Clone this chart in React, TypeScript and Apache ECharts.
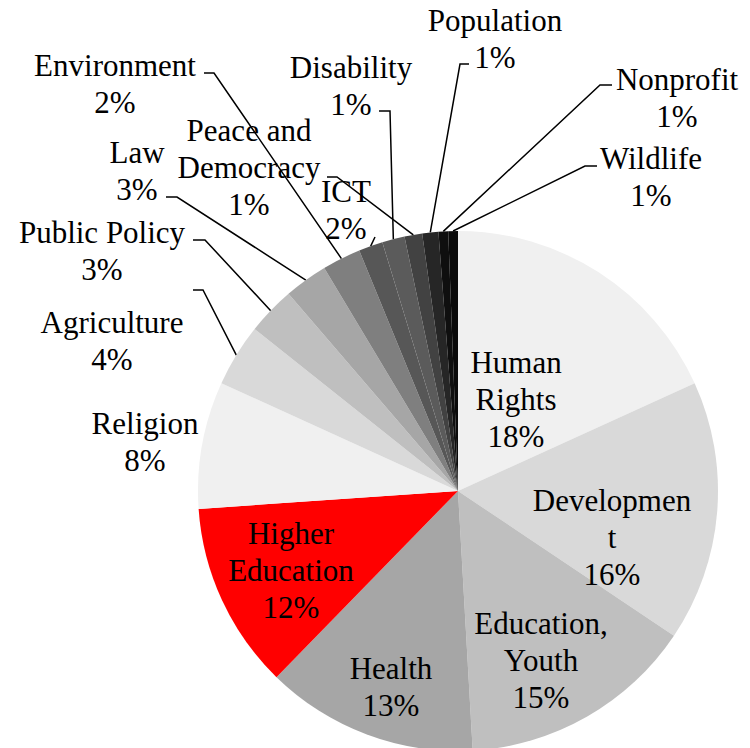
import React, { useEffect, useRef } from "react";
import * as echarts from "echarts";

// ---- data ----
const categories = [
  "Human Rights",
  "Development",
  "Education, Youth",
  "Health",
  "Higher Education",
  "Religion",
  "Agriculture",
  "Public Policy",
  "Law",
  "Environment",
  "ICT",
  "Disability",
  "Peace and Democracy",
  "Population",
  "Nonprofit",
  "Wildlife",
];
const shares = [18.2, 16.2, 14.7, 13.2, 11.6, 7.9, 3.9, 3.0, 2.7, 2.4, 1.5, 1.4, 1.1, 1.0, 0.6, 0.6];
const displayNames = [
  "Human\nRights",
  "Developmen\nt",
  "Education,\nYouth",
  "Health",
  "Higher\nEducation",
  "Religion",
  "Agriculture",
  "Public Policy",
  "Law",
  "Environment",
  "ICT",
  "Disability",
  "Peace and\nDemocracy",
  "Population",
  "Nonprofit",
  "Wildlife",
];
const sliceColors = [
  "#f0f0f0",
  "#d9d9d9",
  "#bfbfbf",
  "#a6a6a6",
  "#ff0000",
  "#f0f0f0",
  "#d9d9d9",
  "#bfbfbf",
  "#a6a6a6",
  "#7f7f7f",
  "#575757",
  "#5b5b5b",
  "#424242",
  "#262626",
  "#0f0f0f",
  "#0a0a0a",
];

// ---- label placement (layout only) ----
const labelCenters: Record<string, [number, number]> = {
  "Human Rights": [516, 399],
  Development: [612, 537],
  "Education, Youth": [541, 660],
  Health: [391, 687],
  "Higher Education": [291, 570],
  Religion: [145, 442],
  Agriculture: [112, 341],
  "Public Policy": [102, 251],
  Law: [137, 171],
  Environment: [115, 84],
  ICT: [346, 210],
  Disability: [351, 86],
  "Peace and Democracy": [249, 167],
  Population: [495, 39],
  Nonprofit: [677, 98],
  Wildlife: [651, 177],
};
const leaderStubs: Record<string, [number, number][]> = {
  Agriculture: [[203, 290], [193, 290]],
  "Public Policy": [[205, 240], [193, 240]],
  Law: [[177, 197], [166, 197]],
  Environment: [[214, 73], [204, 73]],
  ICT: [[375, 237], [375, 237]],
  Disability: [[390, 111], [379, 111]],
  "Peace and Democracy": [[337, 177], [327, 177]],
  Population: [[460, 64], [469, 64]],
  Nonprofit: [[600, 85], [612, 85]],
  Wildlife: [[585, 166], [597, 166]],
};

export default function App() {
  const ref = useRef<HTMLDivElement>(null);
  useEffect(() => {
    if (!ref.current) return;
    const chart = echarts.init(ref.current, undefined, { renderer: "svg" });
    const data = categories.map((name, i) => ({
      name,
      value: shares[i],
      itemStyle: { color: sliceColors[i] },
      labelLine: { show: !!leaderStubs[name] },
    }));
    chart.setOption({
      animation: false,
      backgroundColor: "#ffffff",
      series: [
        {
          type: "pie",
          center: [458, 491],
          radius: 260,
          startAngle: 90,
          clockwise: true,
          avoidLabelOverlap: false,
          silent: true,
          itemStyle: { borderWidth: 0 },
          label: {
            show: true,
            position: "outside",
            color: "#000000",
            fontFamily: "Liberation Serif",
            fontSize: 31,
            lineHeight: 37,
            width: 320,
            overflow: "none",
            align: "center",
            formatter: (p: any) =>
              displayNames[p.dataIndex] + "\n" + Math.round(p.percent) + "%",
          },
          labelLine: {
            lineStyle: { color: "#000000", width: 1.5 },
          },
          labelLayout: (params: any) => {
            const name = categories[params.dataIndex];
            const c = labelCenters[name];
            const res: any = {
              x: c[0],
              y: c[1],
              align: "center",
              verticalAlign: "middle",
            };
            const stub = leaderStubs[name];
            if (stub && params.labelLinePoints) {
              res.labelLinePoints = [params.labelLinePoints[0], ...stub];
            }
            return res;
          },
          data,
        },
      ],
    });
    return () => chart.dispose();
  }, []);
  return (
    <div
      ref={ref}
      style={{ position: "absolute", left: 0, top: 0, width: 750, height: 748 }}
    />
  );
}
